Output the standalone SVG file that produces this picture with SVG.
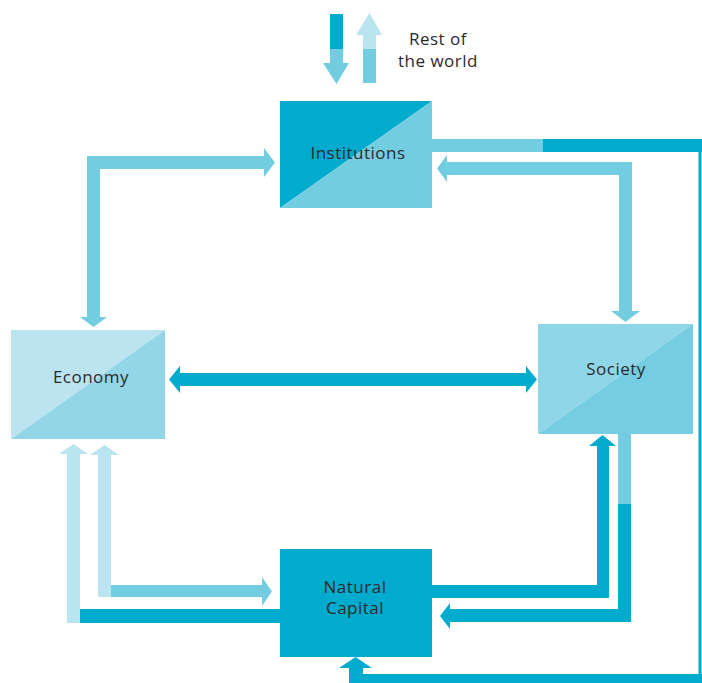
<svg xmlns="http://www.w3.org/2000/svg" width="702" height="683" viewBox="0 0 702 683">
<style>
.dark{fill:#00abcd}
.mid{fill:#73cde0}
.light{fill:#b9e4f0}
.lbl{font-family:"Open Sans","Liberation Sans",sans-serif;font-size:17px;letter-spacing:0.5px;fill:#2a2a2a;text-anchor:middle}
</style>
<rect width="702" height="683" fill="#fff"/>
<g id="connectors">
  <!-- Rest of world -->
  <rect class="dark" x="330" y="14" width="13" height="35"/>
  <polygon class="mid" points="330,49 343,49 343,63 349,63 336.5,84 323,63 330,63"/>
  <polygon class="light" points="363,49 363,35 356,35 369.5,13 382,35 376,35 376,49"/>
  <rect class="mid" x="363" y="49" width="13" height="34"/>
  <!-- Economy <-> Institutions -->
  <polygon class="mid" points="87,156 264,156 264,148 275,162.5 264,177 264,169 100,169 100,317 107,317 93.5,327 80,317 87,317"/>
  <!-- Society <-> Institutions -->
  <polygon class="mid" points="632,162 632,311 640,311 625.5,322 611,311 619,311 619,175 447,175 447,182 437,168.5 447,155 447,162"/>
  <!-- Economy <-> Society -->
  <polygon class="dark" points="169,379.5 180,366 180,373 526,373 526,366 537,379.5 526,393 526,386 180,386 180,393"/>
  <!-- Institutions loop to Natural Capital -->
  <rect class="mid" x="432" y="139" width="111" height="13"/>
  <rect class="dark" x="543" y="139" width="159" height="13"/>
  <rect class="dark" x="698.5" y="139" width="3" height="544"/>
  <polygon class="dark" points="349,683 349,668 339,668 355.5,657 372,668 363,668 363,674 702,674 702,683"/>
  <!-- Bottom left -->
  <polygon class="light" points="67,623 67,454 59,454 73.5,444 88,454 80,454 80,623"/>
  <polygon class="light" points="98,597 98,455 90,455 104.5,445 119,455 111,455 111,597"/>
  <polygon class="mid" points="111,585 262,585 262,577 272,591.5 262,606 262,597 111,597"/>
  <rect class="dark" x="80" y="609" width="200" height="14"/>
  <!-- Natural Capital <-> Society -->
  <polygon class="dark" points="432,585 597,585 597,446 589,446 602.5,435 616,446 609,446 609,598 432,598"/>
  <rect class="mid" x="618" y="433" width="13" height="71"/>
  <polygon class="dark" points="618,504 631,504 631,622 450,622 450,629 440,616 450,603 450,609 618,609"/>
</g>
<g id="institutions">
  <polygon points="280,101 432,101 280,208" fill="#00abcd"/>
  <polygon points="432,101 432,208 280,208" fill="#73cde0"/>
  <text class="lbl" x="358" y="159">Institutions</text>
</g>
<g id="economy">
  <polygon points="11,330 165,330 11,439" fill="#bce4f0"/>
  <polygon points="165,330 165,439 11,439" fill="#93d6e8"/>
  <text class="lbl" x="91" y="383">Economy</text>
</g>
<g id="society">
  <polygon points="538,324 693,324 538,434" fill="#8fd6e8"/>
  <polygon points="693,324 693,434 538,434" fill="#74cde0"/>
  <text class="lbl" x="616" y="375">Society</text>
</g>
<g id="natural-capital">
  <rect x="280" y="549" width="152" height="108" fill="#00abcd"/>
  <text class="lbl" x="355" y="593">Natural</text>
  <text class="lbl" x="355" y="614">Capital</text>
</g>
<g id="rest-of-world">
  <text class="lbl" x="438" y="45">Rest of</text>
  <text class="lbl" x="438" y="67">the world</text>
</g>
</svg>
